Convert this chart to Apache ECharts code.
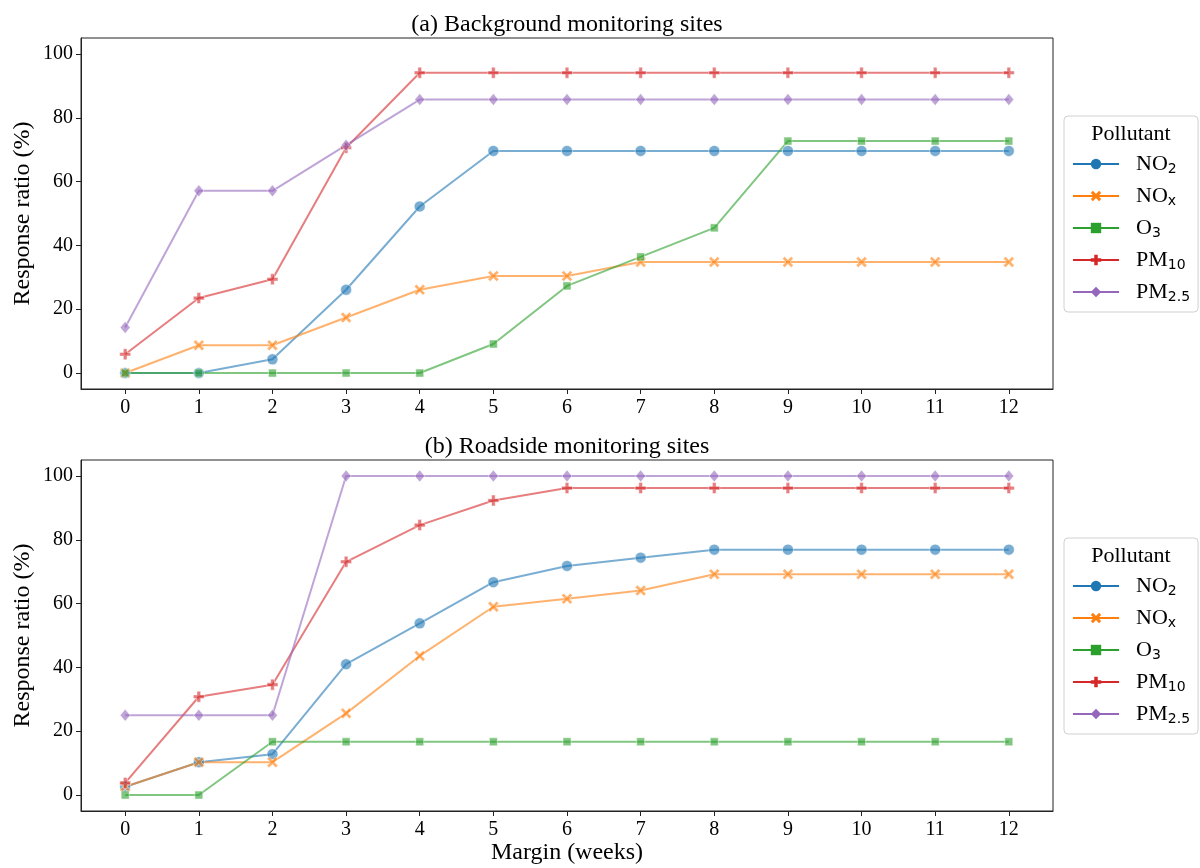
<!DOCTYPE html>
<html>
<head>
<meta charset="utf-8">
<script src="https://cdn.jsdelivr.net/npm/echarts@6/dist/echarts.min.js"></script>
<style>
html,body{margin:0;padding:0;background:#fff;}
#main{width:1200px;height:868px;}
</style>
</head>
<body>
<div id="main"></div>
<script>
// ---- data ----
var weeks = [0,1,2,3,4,5,6,7,8,9,10,11,12];
var xTicks = [0,1,2,3,4,5,6,7,8,9,10,11,12];
var yTicks = [0,20,40,60,80,100];
var pollutants = ['NO2','NOx','O3','PM10','PM2.5'];

// (a) Background monitoring sites
var bgNO2  = [0, 0, 4.3, 26.1, 52.2, 69.6, 69.6, 69.6, 69.6, 69.6, 69.6, 69.6, 69.6];
var bgNOx  = [0, 8.7, 8.7, 17.4, 26.1, 30.4, 30.4, 34.8, 34.8, 34.8, 34.8, 34.8, 34.8];
var bgO3   = [0, 0, 0, 0, 0, 9.1, 27.3, 36.4, 45.5, 72.7, 72.7, 72.7, 72.7];
var bgPM10 = [5.9, 23.5, 29.4, 70.6, 94.1, 94.1, 94.1, 94.1, 94.1, 94.1, 94.1, 94.1, 94.1];
var bgPM25 = [14.3, 57.1, 57.1, 71.4, 85.7, 85.7, 85.7, 85.7, 85.7, 85.7, 85.7, 85.7, 85.7];

// (b) Roadside monitoring sites
var rdNO2  = [2.6, 10.3, 12.8, 41.0, 53.8, 66.7, 71.8, 74.4, 76.9, 76.9, 76.9, 76.9, 76.9];
var rdNOx  = [2.6, 10.3, 10.3, 25.6, 43.6, 59.0, 61.5, 64.1, 69.2, 69.2, 69.2, 69.2, 69.2];
var rdO3   = [0, 0, 16.7, 16.7, 16.7, 16.7, 16.7, 16.7, 16.7, 16.7, 16.7, 16.7, 16.7];
var rdPM10 = [3.8, 30.8, 34.6, 73.1, 84.6, 92.3, 96.2, 96.2, 96.2, 96.2, 96.2, 96.2, 96.2];
var rdPM25 = [25, 25, 25, 100, 100, 100, 100, 100, 100, 100, 100, 100, 100];

var titleA = '(a) Background monitoring sites';
var titleB = '(b) Roadside monitoring sites';
var yName = 'Response ratio (%)';
var xName = 'Margin (weeks)';
var legendTitle = 'Pollutant';

// ---- styling ----
var colors = ['#1f77b4','#ff7f0e','#2ca02c','#d62728','#9467bd'];
var SERIF = '"Liberation Serif", "Times New Roman", serif';
var FS_TICK = 20, FS_NAME = 24, FS_TITLE = 24, FS_LEG = 22;
var plusPath = 'path://M2,0h2v2h2v2h-2v2h-2v-2h-2v-2h2z';
var xPath = 'path://M0,2L2,0L5,3L8,0L10,2L7,5L10,8L8,10L5,7L2,10L0,8L3,5Z';
var symbols = ['circle', xPath, 'rect', plusPath, 'diamond'];
var symSizes = [11, 11, 8, 11, [10, 12]];
var subMap = {'NO2':['NO','2'],'NOx':['NO','x'],'O3':['O','3'],'PM10':['PM','10'],'PM2.5':['PM','2.5']};

var G = [
  {left:81, right:147, top:38, height:351},
  {left:81, right:147, top:460, height:351}
];

function makeX(i){
  return {
    type:'value', gridIndex:i, min:-0.6, max:12.6,
    splitLine:{show:false},
    axisLine:{show:true, onZero:false, lineStyle:{color:'#222', width:1}},
    axisTick:{show:true, length:5, customValues:xTicks, lineStyle:{color:'#222'}},
    axisLabel:{customValues:xTicks, color:'#000', fontFamily:SERIF, fontSize:FS_TICK, margin:9},
    name: i===1 ? xName : '', nameLocation:'middle', nameGap:30, nameMoveOverlap:false,
    nameTextStyle:{color:'#000', fontFamily:SERIF, fontSize:FS_NAME}
  };
}
function makeY(i){
  return {
    type:'value', gridIndex:i, min:-5, max:105,
    splitLine:{show:false},
    axisLine:{show:true, onZero:false, lineStyle:{color:'#222', width:1}},
    axisTick:{show:true, length:5, customValues:yTicks, lineStyle:{color:'#222'}},
    axisLabel:{customValues:yTicks, color:'#000', fontFamily:SERIF, fontSize:FS_TICK, margin:8},
    name:yName, nameLocation:'middle', nameGap:46, nameRotate:90, nameMoveOverlap:false,
    nameTextStyle:{color:'#000', fontFamily:SERIF, fontSize:FS_NAME}
  };
}

function pairs(arr){ return weeks.map(function(w,k){ return [w, arr[k]]; }); }

var bgData = [bgNO2, bgNOx, bgO3, bgPM10, bgPM25];
var rdData = [rdNO2, rdNOx, rdO3, rdPM10, rdPM25];
var series = [];
[bgData, rdData].forEach(function(set, gi){
  set.forEach(function(arr, si){
    series.push({
      type:'line', name:pollutants[si], xAxisIndex:gi, yAxisIndex:gi,
      data:pairs(arr),
      symbol:symbols[si], symbolSize:symSizes[si], showSymbol:true,
      lineStyle:{color:colors[si], width:2, opacity:0.6},
      itemStyle:{color:colors[si], opacity:0.6, borderColor:'#fff', borderWidth:0.8},
      emphasis:{disabled:true},
      animation:false
    });
  });
});

function legendOpt(top){
  return {
    orient:'vertical', left:1064, top:top,
    data:pollutants,
    padding:[36, 8, 8, 8],
    itemGap:8, itemWidth:46, itemHeight:13,
    borderColor:'#d0d0d0', borderWidth:1, borderRadius:4,
    backgroundColor:'#fff',
    itemStyle:{opacity:1, borderWidth:0},
    lineStyle:{opacity:1, width:2},
    formatter:function(n){ var p = subMap[n]; return '{n|' + p[0] + '}{s|' + p[1] + '}'; },
    textStyle:{
      color:'#000', lineHeight:24,
      rich:{
        n:{fontFamily:SERIF, fontSize:FS_LEG, color:'#000', padding:[0,0,0,12], lineHeight:24},
        s:{fontFamily:'"DejaVu Sans", sans-serif', fontSize:14, color:'#000', verticalAlign:'bottom', lineHeight:17}
      }
    }
  };
}

var chart = echarts.init(document.getElementById('main'), null, {renderer:'canvas'});
chart.setOption({
  animation:false,
  color:colors,
  grid:G.map(function(g){ return Object.assign({show:true, borderColor:'#222', borderWidth:1, backgroundColor:'#fff'}, g); }),
  xAxis:[makeX(0), makeX(1)],
  yAxis:[makeY(0), makeY(1)],
  legend:[legendOpt(116), legendOpt(538)],
  series:series,
  graphic:[
    {type:'text', x:567, y:25, style:{text:titleA, fill:'#000', font:FS_TITLE+'px '+SERIF, align:'center', verticalAlign:'middle'}},
    {type:'text', x:567, y:447, style:{text:titleB, fill:'#000', font:FS_TITLE+'px '+SERIF, align:'center', verticalAlign:'middle'}},
    {type:'text', x:1131, y:134, z:100, style:{text:legendTitle, fill:'#000', font:FS_LEG+'px '+SERIF, align:'center', verticalAlign:'middle'}},
    {type:'text', x:1131, y:556, z:100, style:{text:legendTitle, fill:'#000', font:FS_LEG+'px '+SERIF, align:'center', verticalAlign:'middle'}}
  ]
});
</script>
</body>
</html>
